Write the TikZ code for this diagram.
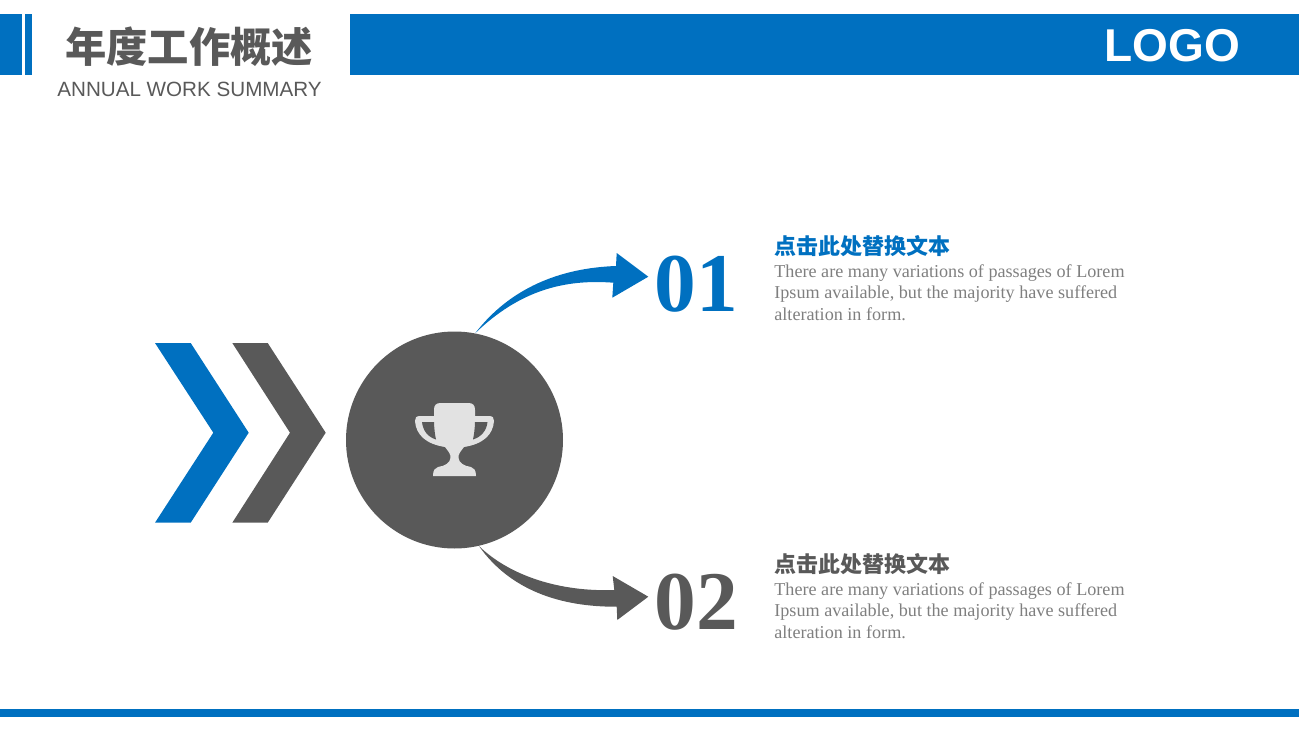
\documentclass[tikz,border=0pt]{standalone}
\usepackage{fontspec}
\setmainfont{Liberation Serif}
\setsansfont{Liberation Sans}
\newfontfamily\cjk{Noto Sans CJK SC}
\definecolor{brandblue}{RGB}{0, 112, 192}
\definecolor{slate}{RGB}{89, 89, 89}
\definecolor{bodygray}{RGB}{127, 127, 127}
\definecolor{trophygray}{RGB}{226, 226, 226}
\tikzset{
    numtext/.style={anchor=base west, inner sep=0pt, font=\fontsize{47.5pt}{47.5pt}\selectfont\bfseries},
    headtext/.style={anchor=west, inner sep=0pt, font=\fontsize{12.5pt}{15pt}\selectfont\cjk\bfseries},
    bodytext/.style={anchor=north west, inner sep=0pt, align=left, text=bodygray, font=\fontsize{10.33pt}{12.25pt}\selectfont}
}
\begin{document}
\begin{tikzpicture}[x=0.02cm, y=-0.02cm]
            \useasboundingbox (0, 0) rectangle (1299, 730);
            \fill[brandblue]( 0, 14) rectangle ( 22, 75);
            \fill[brandblue](25, 14) rectangle ( 32, 75);
            \fill[brandblue](350, 14) rectangle (1299, 75);
            \fill[brandblue](0, 709) rectangle (1299, 717);
            \node[anchor=center, inner sep=0pt, text=slate, font=\fontsize{23.5pt}{28pt}\selectfont\cjk\bfseries] (title) at (189, 46.5) {年度工作概述};
            \node[anchor=base west, inner sep=0pt, text=slate, font=\fontsize{11.74pt}{15pt}\selectfont\sffamily] (subtitle) at (57, 96) {ANNUAL WORK SUMMARY};
            \node[anchor=base west, inner sep=0pt, text=white, font=\fontsize{26.2pt}{30pt}\selectfont\sffamily\bfseries] (logo) at (1104, 61) {LOGO};
            \fill[brandblue](155, 343) -- (190.7, 343) -- (248.7, 432.7) -- (190.7, 522.7) -- (155, 522.7) -- (213.3, 432.7) -- cycle;
            \fill[slate]    (232.3, 343) -- (267.7, 343) -- (325.7, 432.7) -- (267.7, 522.7) -- (232.3, 522.7) -- (290, 432.7) -- cycle;
            \node[circle, fill=slate, minimum size=217*0.02cm, inner sep=0pt] (hub) at (454.5, 440) {};
            \fill[trophygray](441, 403) -- (468, 403) .. controls (473, 403) and (475, 405) .. (475, 410) -- (475, 416)
                 -- (489, 416) .. controls (493, 416) and (494, 418) .. (494, 421)
                 .. controls (493, 435) and (483, 444) .. (464, 447)
                 .. controls (461, 451) and (458, 454) .. (458.5, 458)
                 .. controls (459, 463) and (464, 466) .. (471, 467)
                 .. controls (474, 468) and (476, 470) .. (476, 476) -- (433, 476)
                 .. controls (433, 470) and (435, 468) .. (438, 467)
                 .. controls (445, 466) and (450, 463) .. (450.5, 458)
                 .. controls (451, 454) and (448, 451) .. (445, 447)
                 .. controls (426, 444) and (416, 435) .. (415, 421)
                 .. controls (415, 418) and (416, 416) .. (420, 416) -- (434, 416) -- (434, 410)
                 .. controls (434, 405) and (436, 403) .. (441, 403) -- cycle;
            \fill[slate](422, 422) -- (434, 422) .. controls (434.2, 429) and (435, 435) .. (436, 439.5)
                 .. controls (428, 437) and (423, 431) .. (422, 422) -- cycle;
            \fill[slate](487.5, 422) -- (475, 422) .. controls (474.8, 429) and (474, 435) .. (473, 439.5)
                 .. controls (481, 437) and (486.5, 431) .. (487.5, 422) -- cycle;
            \coordinate (tipOne) at (648.3, 276.7);
            \coordinate (tipTwo) at (648.3, 596.7);
            \fill[brandblue](hub.79) .. controls (510, 288) and (560, 268) .. (616, 266) -- (616.7, 253) -- (tipOne)
                 -- (612.3, 297.7) -- (613.3, 282.7) .. controls (565, 279) and (520, 290) .. (hub.79) -- cycle;
            \fill[slate](hub.-77) .. controls (510, 576) and (560, 592) .. (614.3, 590) -- (612.7, 576) -- (tipTwo)
                 -- (617.3, 620) -- (616.7, 606.7) .. controls (560, 607) and (510, 590) .. (hub.-77) -- cycle;
            \node[numtext, text=brandblue] (numOne) at (654.5, 311) {01};
            \node[numtext, text=slate]     (numTwo) at (654.5, 629) {02};
            \node[headtext, text=brandblue] (headOne) at (774, 246) {点击此处替换文本};
            \node[headtext, text=slate]     (headTwo) at (774, 564) {点击此处替换文本};
            \node[bodytext] (bodyOne) at (774, 264) {There are many variations of passages of Lorem\\Ipsum available, but the majority have suffered\\alteration in form.};
            \node[bodytext] (bodyTwo) at (774, 582) {There are many variations of passages of Lorem\\Ipsum available, but the majority have suffered\\alteration in form.};
        \end{tikzpicture}
\end{document}
